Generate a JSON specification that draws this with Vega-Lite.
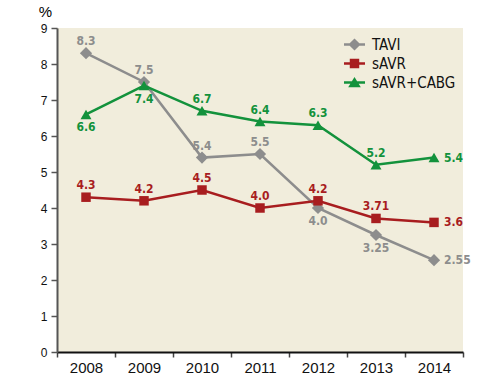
{
  "$schema": "https://vega.github.io/schema/vega-lite/v6.json",
  "width": 406,
  "height": 324,
  "autosize": {"type": "none"},
  "padding": {"left": 57, "top": 28, "right": 39, "bottom": 26},
  "background": "white",
  "config": {
    "view": {"fill": "#f1eddc", "stroke": null},
    "font": "'DejaVu Sans Condensed', 'Liberation Sans Narrow', 'Liberation Sans'"
  },
  "data": {
    "values": [
      {"year": "2008", "series": "TAVI", "value": 8.3, "label": "8.3"},
      {"year": "2009", "series": "TAVI", "value": 7.5, "label": "7.5"},
      {"year": "2010", "series": "TAVI", "value": 5.4, "label": "5.4"},
      {"year": "2011", "series": "TAVI", "value": 5.5, "label": "5.5"},
      {"year": "2012", "series": "TAVI", "value": 4.0, "label": "4.0"},
      {"year": "2013", "series": "TAVI", "value": 3.25, "label": "3.25"},
      {"year": "2014", "series": "TAVI", "value": 2.55, "label": "2.55"},
      {"year": "2008", "series": "sAVR", "value": 4.3, "label": "4.3"},
      {"year": "2009", "series": "sAVR", "value": 4.2, "label": "4.2"},
      {"year": "2010", "series": "sAVR", "value": 4.5, "label": "4.5"},
      {"year": "2011", "series": "sAVR", "value": 4.0, "label": "4.0"},
      {"year": "2012", "series": "sAVR", "value": 4.2, "label": "4.2"},
      {"year": "2013", "series": "sAVR", "value": 3.71, "label": "3.71"},
      {"year": "2014", "series": "sAVR", "value": 3.6, "label": "3.6"},
      {"year": "2008", "series": "sAVR+CABG", "value": 6.6, "label": "6.6"},
      {"year": "2009", "series": "sAVR+CABG", "value": 7.4, "label": "7.4"},
      {"year": "2010", "series": "sAVR+CABG", "value": 6.7, "label": "6.7"},
      {"year": "2011", "series": "sAVR+CABG", "value": 6.4, "label": "6.4"},
      {"year": "2012", "series": "sAVR+CABG", "value": 6.3, "label": "6.3"},
      {"year": "2013", "series": "sAVR+CABG", "value": 5.2, "label": "5.2"},
      {"year": "2014", "series": "sAVR+CABG", "value": 5.4, "label": "5.4"}
    ]
  },
  "encoding": {
    "x": {
      "field": "year", "type": "ordinal",
      "scale": {"paddingInner": 0, "paddingOuter": 0},
      "axis": {
        "title": null, "labelAngle": 0, "labelFontSize": 15, "labelColor": "#111",
        "labelFont": "Liberation Sans", "labelPadding": 3,
        "domainColor": "#111", "domainWidth": 2, "tickBand": "extent",
        "tickSize": 5, "tickColor": "#444", "tickWidth": 1.5
      }
    },
    "y": {
      "field": "value", "type": "quantitative",
      "scale": {"domain": [0, 9], "nice": false},
      "axis": {
        "values": [0,1,2,3,4,5,6,7,8,9], "grid": false,
        "title": "%", "titleAngle": 0, "titleX": -12, "titleY": -12,
        "titleAlign": "center", "titleBaseline": "alphabetic",
        "titleFontSize": 15, "titleFontWeight": "normal", "titleFont": "Liberation Sans",
        "labelFontSize": 12, "labelColor": "#111", "labelFont": "Liberation Sans", "labelPadding": 4,
        "domainColor": "#555", "domainWidth": 2, "tickColor": "#555", "tickSize": 6, "tickWidth": 1.5
      }
    },
    "color": {
      "field": "series", "type": "nominal",
      "scale": {"domain": ["TAVI", "sAVR", "sAVR+CABG"], "range": ["#8d8d8d", "#a81d1f", "#13923c"]},
      "legend": {
        "title": null, "orient": "none", "legendX": 287, "legendY": 6,
        "labelFontSize": 15, "labelColor": "#111",
        "symbolSize": 441, "rowPadding": -1, "labelOffset": 7,
        "encode": {
          "symbols": {
            "update": {
              "shape": {"signal": "datum.value === 'TAVI' ? 'M-1,-0.12H1V0.12H-1ZM0,-0.58L0.58,0L0,0.58L-0.58,0Z' : datum.value === 'sAVR' ? 'M-1,-0.12H1V0.12H-1ZM-0.45,-0.45H0.45V0.45H-0.45Z' : 'M-1,-0.12H1V0.12H-1ZM0,-0.52L0.6,0.45H-0.6Z'"},
              "fill": {"scale": "color", "field": "value"},
              "fillOpacity": {"value": 1},
              "strokeWidth": {"value": 0},
              "opacity": {"value": 1}
            }
          }
        }
      }
    }
  },
  "layer": [
    {
      "mark": {"type": "line", "strokeWidth": 2.5}
    },
    {
      "transform": [{"filter": "datum.series === 'TAVI'"}],
      "mark": {"type": "point", "filled": true, "opacity": 1, "shape": "diamond", "size": 150}
    },
    {
      "transform": [{"filter": "datum.series === 'sAVR'"}],
      "mark": {"type": "point", "filled": true, "opacity": 1, "shape": "square", "size": 90}
    },
    {
      "transform": [{"filter": "datum.series === 'sAVR+CABG'"}],
      "mark": {"type": "point", "filled": true, "opacity": 1, "shape": "triangle-up", "size": 120}
    },
    {
      "transform": [{"filter": "(datum.series === 'TAVI' && toNumber(datum.year) <= 2011) || (datum.series === 'sAVR' && toNumber(datum.year) <= 2013) || (datum.series === 'sAVR+CABG' && toNumber(datum.year) >= 2010 && toNumber(datum.year) <= 2013)"}],
      "mark": {"type": "text", "baseline": "alphabetic", "dy": -8, "fontSize": 12, "fontWeight": "bold"},
      "encoding": {"text": {"field": "label"}}
    },
    {
      "transform": [{"filter": "(datum.series === 'TAVI' && (datum.year === '2012' || datum.year === '2013')) || (datum.series === 'sAVR+CABG' && (datum.year === '2008' || datum.year === '2009'))"}],
      "mark": {"type": "text", "baseline": "top", "dy": 8, "fontSize": 12, "fontWeight": "bold"},
      "encoding": {"text": {"field": "label"}}
    },
    {
      "transform": [{"filter": "datum.year === '2014'"}],
      "mark": {"type": "text", "baseline": "middle", "align": "left", "dx": 10, "fontSize": 12, "fontWeight": "bold"},
      "encoding": {"text": {"field": "label"}}
    }
  ]
}
